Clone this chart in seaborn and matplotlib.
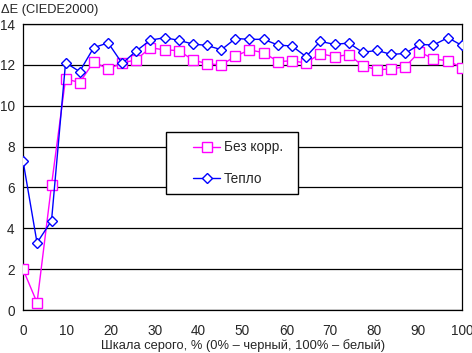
import numpy as np
import pandas as pd
import seaborn as sns
import matplotlib.pyplot as plt
from matplotlib.patches import Rectangle

# gray levels, %
gray = [0, 3.2, 6.5, 9.7, 12.9, 16.1, 19.4, 22.6, 25.8, 29.0, 32.3, 35.5,
        38.7, 41.9, 45.2, 48.4, 51.6, 54.8, 58.1, 61.3, 64.5, 67.7, 71.0,
        74.2, 77.4, 80.6, 83.9, 87.1, 90.3, 93.5, 96.8, 100]

# delta E, no correction
de_none = [2.0, 0.36, 6.12, 11.32, 11.13, 12.14, 11.8, 12.09, 12.25, 12.84,
           12.73, 12.7, 12.24, 12.06, 11.99, 12.43, 12.73, 12.6, 12.16, 12.2,
           12.09, 12.55, 12.4, 12.5, 11.96, 11.76, 11.8, 11.91, 12.64, 12.29,
           12.2, 11.86]

# delta E, warm profile
de_warm = [7.31, 3.29, 4.37, 12.11, 11.67, 12.84, 13.08, 12.07, 12.68, 13.21,
           13.33, 13.2, 13.02, 12.95, 12.74, 13.29, 13.25, 13.25, 12.97, 12.92,
           12.4, 13.15, 13.0, 13.07, 12.61, 12.71, 12.51, 12.56, 13.0, 12.97,
           13.33, 12.95]

labels = ["Без корр.", "Тепло"]

sns.set_style("white")
plt.rcParams['font.family'] = ['Liberation Sans', 'DejaVu Sans']
plt.rcParams['font.size'] = 9.5

fig = plt.figure(figsize=(4.72, 3.53), dpi=100)
ax = fig.add_axes([0.0487, 0.1218, 0.9300, 0.8102])

df = pd.DataFrame({"x": gray, "a": de_none, "b": de_warm})

sns.lineplot(data=df, x="x", y="a", ax=ax, color="#FF00FF", lw=1.0,
             marker="s", markersize=6.5, markerfacecolor="white",
             markeredgecolor="#FF00FF", markeredgewidth=1.0, label=labels[0],
             zorder=3)
sns.lineplot(data=df, x="x", y="b", ax=ax, color="#0000FF", lw=1.0,
             marker="D", markersize=5.5, markerfacecolor="white",
             markeredgecolor="#0000FF", markeredgewidth=1.0, label=labels[1],
             zorder=4)

ax.set_xlim(0, 100)
ax.set_ylim(0, 14)
ax.set_xticks(range(0, 101, 10))
ax.set_yticks(range(0, 15, 2))
ax.yaxis.grid(True, color="black", lw=0.9)
ax.set_axisbelow(True)
for s in ax.spines.values():
    s.set_color("black")
    s.set_linewidth(0.9)
ax.tick_params(axis="x", direction="out", length=4, width=0.9, color="black",
               pad=6, labelsize=9.8)
ax.tick_params(axis="y", length=0, pad=6, labelsize=9.8)
ax.set_xlabel("")
ax.set_ylabel("")

# legend box
ax.add_patch(Rectangle((0.326, 0.406), 0.300, 0.216, transform=ax.transAxes,
                       facecolor="white", edgecolor="black", lw=1.0, zorder=5))
leg = ax.legend(loc="center left", bbox_to_anchor=(0.372, 0.514),
                frameon=False, handlelength=2.0, handletextpad=0.25,
                labelspacing=1.25, borderpad=0, fontsize=9.8)
leg.set_zorder(6)

fig.text(0.002, 0.972, "ΔE (CIEDE2000)", fontsize=9.3, va="center", ha="left")
fig.text(0.514, 0.004, "Шкала серого, % (0% – черный, 100% – белый)",
         fontsize=9.3, va="bottom", ha="center")

fig.savefig("out.png", dpi=100)
